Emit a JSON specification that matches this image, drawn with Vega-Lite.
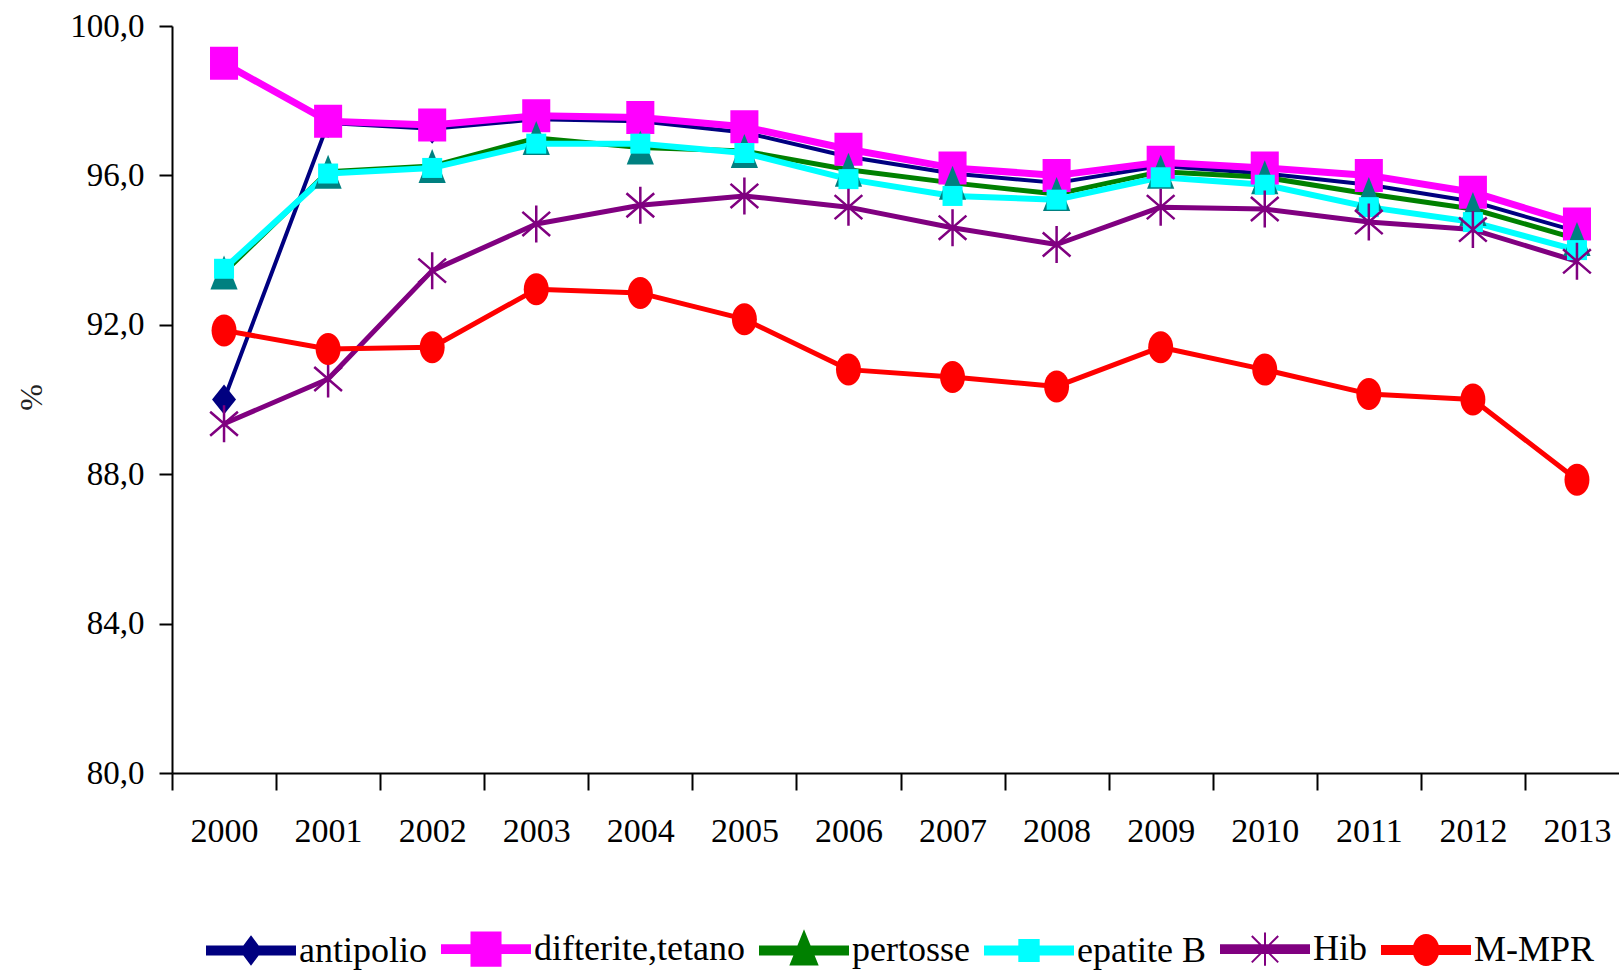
{
  "$schema": "https://vega.github.io/schema/vega-lite/v6.json",
  "autosize": {"type": "none"},
  "padding": {"left": 172, "top": 26, "right": 0, "bottom": 199},
  "width": 1447,
  "height": 747,
  "background": "white",
  "config": {
    "view": {"stroke": null},
    "font": "Liberation Serif"
  },
  "data": {
    "values": [
      {"year": "2000", "series": "antipolio", "value": 90.0},
      {"year": "2001", "series": "antipolio", "value": 97.4},
      {"year": "2002", "series": "antipolio", "value": 97.25},
      {"year": "2003", "series": "antipolio", "value": 97.5},
      {"year": "2004", "series": "antipolio", "value": 97.45},
      {"year": "2005", "series": "antipolio", "value": 97.15},
      {"year": "2006", "series": "antipolio", "value": 96.5},
      {"year": "2007", "series": "antipolio", "value": 96.05},
      {"year": "2008", "series": "antipolio", "value": 95.8},
      {"year": "2009", "series": "antipolio", "value": 96.25},
      {"year": "2010", "series": "antipolio", "value": 96.05},
      {"year": "2011", "series": "antipolio", "value": 95.75},
      {"year": "2012", "series": "antipolio", "value": 95.3},
      {"year": "2013", "series": "antipolio", "value": 94.5},
      {"year": "2000", "series": "difterite,tetano", "value": 99.0},
      {"year": "2001", "series": "difterite,tetano", "value": 97.45},
      {"year": "2002", "series": "difterite,tetano", "value": 97.35},
      {"year": "2003", "series": "difterite,tetano", "value": 97.6},
      {"year": "2004", "series": "difterite,tetano", "value": 97.55},
      {"year": "2005", "series": "difterite,tetano", "value": 97.3},
      {"year": "2006", "series": "difterite,tetano", "value": 96.7},
      {"year": "2007", "series": "difterite,tetano", "value": 96.2},
      {"year": "2008", "series": "difterite,tetano", "value": 96.0},
      {"year": "2009", "series": "difterite,tetano", "value": 96.35},
      {"year": "2010", "series": "difterite,tetano", "value": 96.2},
      {"year": "2011", "series": "difterite,tetano", "value": 96.0},
      {"year": "2012", "series": "difterite,tetano", "value": 95.55},
      {"year": "2013", "series": "difterite,tetano", "value": 94.7},
      {"year": "2000", "series": "pertosse", "value": 93.4},
      {"year": "2001", "series": "pertosse", "value": 96.1},
      {"year": "2002", "series": "pertosse", "value": 96.25},
      {"year": "2003", "series": "pertosse", "value": 97.0},
      {"year": "2004", "series": "pertosse", "value": 96.75},
      {"year": "2005", "series": "pertosse", "value": 96.65},
      {"year": "2006", "series": "pertosse", "value": 96.15},
      {"year": "2007", "series": "pertosse", "value": 95.8},
      {"year": "2008", "series": "pertosse", "value": 95.5},
      {"year": "2009", "series": "pertosse", "value": 96.1},
      {"year": "2010", "series": "pertosse", "value": 95.95},
      {"year": "2011", "series": "pertosse", "value": 95.5},
      {"year": "2012", "series": "pertosse", "value": 95.1},
      {"year": "2013", "series": "pertosse", "value": 94.3},
      {"year": "2000", "series": "epatite B", "value": 93.5},
      {"year": "2001", "series": "epatite B", "value": 96.05},
      {"year": "2002", "series": "epatite B", "value": 96.2},
      {"year": "2003", "series": "epatite B", "value": 96.85},
      {"year": "2004", "series": "epatite B", "value": 96.85},
      {"year": "2005", "series": "epatite B", "value": 96.6},
      {"year": "2006", "series": "epatite B", "value": 95.9},
      {"year": "2007", "series": "epatite B", "value": 95.45},
      {"year": "2008", "series": "epatite B", "value": 95.35},
      {"year": "2009", "series": "epatite B", "value": 95.95},
      {"year": "2010", "series": "epatite B", "value": 95.75},
      {"year": "2011", "series": "epatite B", "value": 95.15},
      {"year": "2012", "series": "epatite B", "value": 94.75},
      {"year": "2013", "series": "epatite B", "value": 94.0},
      {"year": "2000", "series": "Hib", "value": 89.35},
      {"year": "2001", "series": "Hib", "value": 90.55},
      {"year": "2002", "series": "Hib", "value": 93.45},
      {"year": "2003", "series": "Hib", "value": 94.7},
      {"year": "2004", "series": "Hib", "value": 95.2},
      {"year": "2005", "series": "Hib", "value": 95.45},
      {"year": "2006", "series": "Hib", "value": 95.15},
      {"year": "2007", "series": "Hib", "value": 94.6},
      {"year": "2008", "series": "Hib", "value": 94.15},
      {"year": "2009", "series": "Hib", "value": 95.15},
      {"year": "2010", "series": "Hib", "value": 95.1},
      {"year": "2011", "series": "Hib", "value": 94.75},
      {"year": "2012", "series": "Hib", "value": 94.55},
      {"year": "2013", "series": "Hib", "value": 93.7},
      {"year": "2000", "series": "M-MPR", "value": 91.85},
      {"year": "2001", "series": "M-MPR", "value": 91.35},
      {"year": "2002", "series": "M-MPR", "value": 91.4},
      {"year": "2003", "series": "M-MPR", "value": 92.95},
      {"year": "2004", "series": "M-MPR", "value": 92.85},
      {"year": "2005", "series": "M-MPR", "value": 92.15},
      {"year": "2006", "series": "M-MPR", "value": 90.8},
      {"year": "2007", "series": "M-MPR", "value": 90.6},
      {"year": "2008", "series": "M-MPR", "value": 90.35},
      {"year": "2009", "series": "M-MPR", "value": 91.4},
      {"year": "2010", "series": "M-MPR", "value": 90.8},
      {"year": "2011", "series": "M-MPR", "value": 90.15},
      {"year": "2012", "series": "M-MPR", "value": 90.0},
      {"year": "2013", "series": "M-MPR", "value": 87.85}
    ]
  },
  "encoding": {
    "x": {
      "field": "year", "type": "ordinal",
      "scale": {"paddingInner": 0, "paddingOuter": 0, "range": [0, 1457]},
      "axis": {
        "title": null, "labelAngle": 0, "tickBand": "extent",
        "tickSize": 17, "tickWidth": 2, "tickColor": "#000",
        "domainColor": "#000", "domainWidth": 2,
        "labelFont": "Liberation Serif", "labelFontSize": 34, "labelColor": "#000",
        "labelPadding": 24, "grid": false
      }
    },
    "y": {
      "field": "value", "type": "quantitative",
      "scale": {"domain": [80, 100], "nice": false, "zero": false},
      "axis": {
        "title": "%", "values": [80, 84, 88, 92, 96, 100],
        "labelExpr": "replace(format(datum.value, '.1f'), '.', ',')",
        "tickSize": 13, "tickWidth": 2, "tickColor": "#000",
        "domainColor": "#000", "domainWidth": 2,
        "labelFont": "Liberation Serif", "labelFontSize": 33, "labelColor": "#000",
        "labelPadding": 15, "grid": false,
        "titleFont": "Liberation Serif", "titleFontSize": 32, "titleFontWeight": "normal",
        "titleColor": "#222", "titleX": -141, "titleY": 371, "titleAngle": -90,
        "titleAlign": "center", "titleBaseline": "middle"
      }
    }
  },
  "layer": [
    {
      "transform": [{"filter": "datum.series === 'antipolio'"}],
      "mark": {"type": "line", "strokeWidth": 4, "strokeJoin": "round"},
      "encoding": {
        "color": {
          "field": "series", "type": "nominal",
          "scale": {
            "domain": ["antipolio", "difterite,tetano", "pertosse", "epatite B", "Hib", "M-MPR"],
            "range": ["#000080", "#FF00FF", "#008000", "#00FFFF", "#800080", "#FF0000"]
          },
          "legend": {
            "title": null, "orient": "none", "direction": "horizontal",
            "legendX": 34, "legendY": 878, "padding": 0,
            "symbolSize": 7744, "labelOffset": 3, "columnPadding": 11,
            "labelFont": "Liberation Serif", "labelFontSize": 36, "labelColor": "#000",
            "labelLimit": 400,
            "encode": {
              "symbols": {
                "update": {
                  "shape": {"signal": "datum.value === 'antipolio' ? 'M-1,-0.09H1V0.09H-1ZM0,-0.31L0.23,0L0,0.31L-0.23,0Z' : datum.value === 'difterite,tetano' ? 'M-1,-0.09H1V0.09H-1ZM-0.33,-0.38H0.33V0.38H-0.33Z' : datum.value === 'pertosse' ? 'M-1,-0.09H1V0.09H-1ZM0,-0.42L0.3,0.32H-0.3Z' : datum.value === 'epatite B' ? 'M-1,-0.09H1V0.09H-1ZM-0.22,-0.24H0.22V0.24H-0.22Z' : datum.value === 'Hib' ? 'M-1,-0.09H1V0.09H-1ZM0,-0.38V0.38M-0.3,-0.3L0.3,0.3M-0.3,0.3L0.3,-0.3' : 'M-1,-0.09H1V0.09H-1ZM-0.28,0A0.28,0.34 0 1,1 0.28,0A0.28,0.34 0 1,1 -0.28,0Z'"},
                  "fill": {"signal": "datum.value === 'antipolio' ? '#000080' : datum.value === 'difterite,tetano' ? '#FF00FF' : datum.value === 'pertosse' ? '#008000' : datum.value === 'epatite B' ? '#00FFFF' : datum.value === 'Hib' ? '#800080' : '#FF0000'"},
                  "stroke": {"signal": "datum.value === 'antipolio' ? '#000080' : datum.value === 'difterite,tetano' ? '#FF00FF' : datum.value === 'pertosse' ? '#008000' : datum.value === 'epatite B' ? '#00FFFF' : datum.value === 'Hib' ? '#800080' : '#FF0000'"},
                  "strokeWidth": {"value": 2},
                  "opacity": {"value": 1}
                }
              }
            }
          }
        }
      }
    },
    {
      "transform": [{"filter": "datum.series === 'difterite,tetano'"}],
      "mark": {"type": "line", "strokeWidth": 7, "strokeJoin": "round"},
      "encoding": {"color": {"field": "series", "type": "nominal", "legend": null}}
    },
    {
      "transform": [{"filter": "datum.series === 'pertosse'"}],
      "mark": {"type": "line", "strokeWidth": 5, "strokeJoin": "round"},
      "encoding": {"color": {"field": "series", "type": "nominal", "legend": null}}
    },
    {
      "transform": [{"filter": "datum.series === 'epatite B'"}],
      "mark": {"type": "line", "strokeWidth": 6, "strokeJoin": "round"},
      "encoding": {"color": {"field": "series", "type": "nominal", "legend": null}}
    },
    {
      "transform": [{"filter": "datum.series === 'Hib'"}],
      "mark": {"type": "line", "strokeWidth": 5, "strokeJoin": "round"},
      "encoding": {"color": {"field": "series", "type": "nominal", "legend": null}}
    },
    {
      "transform": [{"filter": "datum.series === 'M-MPR'"}],
      "mark": {"type": "line", "strokeWidth": 5, "strokeJoin": "round"},
      "encoding": {"color": {"field": "series", "type": "nominal", "legend": null}}
    },
    {
      "transform": [{"filter": "datum.series === 'antipolio'"}],
      "mark": {"type": "point", "shape": "M0,-1L0.8,0L0,1L-0.8,0Z", "size": 900, "filled": true, "fill": "#000080", "stroke": null, "opacity": 1},
      "encoding": {}
    },
    {
      "transform": [{"filter": "datum.series === 'difterite,tetano'"}],
      "mark": {"type": "point", "shape": "M-0.85,-1H0.85V1H-0.85Z", "size": 1089, "filled": true, "fill": "#FF00FF", "stroke": null, "opacity": 1},
      "encoding": {}
    },
    {
      "transform": [{"filter": "datum.series === 'pertosse'"}],
      "mark": {"type": "point", "shape": "M0,-1L0.8,1H-0.8Z", "size": 1156, "filled": true, "fill": "#008080", "stroke": null, "opacity": 1},
      "encoding": {}
    },
    {
      "transform": [{"filter": "datum.series === 'epatite B'"}],
      "mark": {"type": "point", "shape": "M-1,-1H1V1H-1Z", "size": 400, "filled": true, "fill": "#00FFFF", "stroke": null, "opacity": 1},
      "encoding": {}
    },
    {
      "transform": [{"filter": "datum.series === 'Hib'"}],
      "mark": {"type": "point", "shape": "M0,-1V1M-0.75,-0.65L0.75,0.65M-0.75,0.65L0.75,-0.65", "size": 1369, "filled": false, "fill": null, "stroke": "#800080", "strokeWidth": 2.5, "opacity": 1},
      "encoding": {}
    },
    {
      "transform": [{"filter": "datum.series === 'M-MPR'"}],
      "mark": {"type": "point", "shape": "M-0.78,0A0.78,1 0 1,1 0.78,0A0.78,1 0 1,1 -0.78,0Z", "size": 1024, "filled": true, "fill": "#FF0000", "stroke": null, "opacity": 1},
      "encoding": {}
    }
  ]
}
